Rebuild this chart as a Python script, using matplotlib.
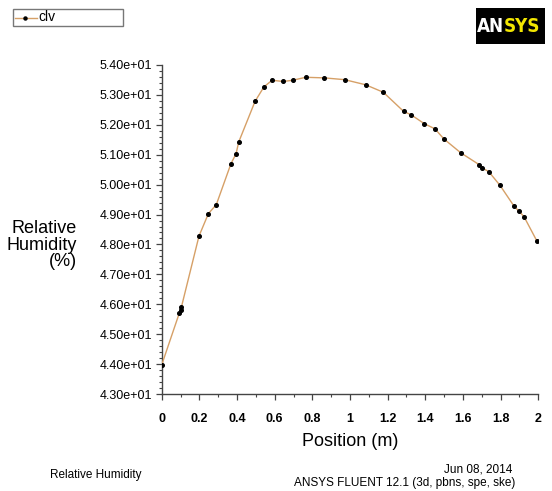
import matplotlib
matplotlib.use("Agg")
import matplotlib.pyplot as plt
from matplotlib.ticker import MultipleLocator, FuncFormatter
from matplotlib.patches import Rectangle
from matplotlib.lines import Line2D

# data
position = [0.0, 0.093, 0.100, 0.105, 0.198, 0.248, 0.290, 0.368, 0.395, 0.409,
            0.496, 0.543, 0.586, 0.646, 0.695, 0.765, 0.864, 0.972, 1.083, 1.177,
            1.285, 1.324, 1.395, 1.451, 1.499, 1.588, 1.687, 1.701, 1.737, 1.797,
            1.871, 1.896, 1.924, 1.993]
humidity = [43.98, 45.70, 45.82, 45.92, 48.28, 49.03, 49.33, 50.70, 51.03, 51.42,
            52.78, 53.26, 53.48, 53.44, 53.48, 53.58, 53.56, 53.50, 53.33, 53.08,
            52.44, 52.33, 52.03, 51.86, 51.52, 51.06, 50.66, 50.56, 50.43, 49.97,
            49.28, 49.12, 48.93, 48.11]
series_name = "clv"

W, H = 552, 491
plt.rcParams['font.family'] = ['Liberation Sans', 'DejaVu Sans']

fig = plt.figure(figsize=(W / 100, H / 100), dpi=100)


def fx(px):
    return px / W


def fy(py):
    return 1 - py / H


ax = fig.add_axes([fx(161.7), fy(394.3), fx(538.3) - fx(161.7), fy(64.7) - fy(394.3)])
ax.plot(position, humidity, color='#d6a067', lw=1.0, marker='o', ms=2.6,
        mfc='black', mec='black', zorder=3)

ax.set_xlim(0, 2)
ax.set_ylim(43, 54)
ax.xaxis.set_major_locator(MultipleLocator(0.2))
ax.xaxis.set_minor_locator(MultipleLocator(0.1))
ax.yaxis.set_major_locator(MultipleLocator(1))
ax.yaxis.set_minor_locator(MultipleLocator(0.2))
ax.yaxis.set_major_formatter(FuncFormatter(lambda v, p: f"{v:.2e}"))
ax.xaxis.set_major_formatter(FuncFormatter(lambda v, p: f"{v:g}"))

for s in ['top', 'right']:
    ax.spines[s].set_visible(False)
for s in ['left', 'bottom']:
    ax.spines[s].set_color('#444444')
    ax.spines[s].set_linewidth(1.0)

ax.tick_params(axis='both', which='major', direction='out', length=4, width=0.9,
               color='#444444')
ax.tick_params(axis='both', which='minor', direction='out', length=2.5, width=0.8,
               color='#444444')
ax.tick_params(axis='y', labelsize=9, pad=3)
ax.tick_params(axis='x', labelsize=9, pad=9.5)
for lab in ax.get_xticklabels():
    lab.set_fontweight('bold')

ax.set_xlabel("Position (m)", fontsize=13, labelpad=6)
fig.text(fx(77), fy(245), "Relative\nHumidity\n(%)", fontsize=13, ha='right',
         va='center', multialignment='right', linespacing=0.95)

# footer texts
fig.text(fx(50), fy(475), "Relative Humidity", fontsize=8.5, ha='left', va='center')
fig.text(fx(512), fy(470), "Jun 08, 2014", fontsize=8.5, ha='right', va='center')
fig.text(fx(515), fy(483), "ANSYS FLUENT 12.1 (3d, pbns, spe, ske)", fontsize=8.5,
         ha='right', va='center')

# legend box
fig.add_artist(Rectangle((fx(13), fy(26)), fx(123) - fx(13), fy(9) - fy(26),
                         transform=fig.transFigure, fill=False, ec='#777777', lw=1))
fig.add_artist(Line2D([fx(15), fx(37)], [fy(17.5), fy(17.5)], transform=fig.transFigure,
                      color='#d6a067', lw=1.0))
fig.add_artist(Line2D([fx(25)], [fy(17.5)], transform=fig.transFigure, marker='o',
                      ms=2.2, color='black', lw=0))
fig.text(fx(38), fy(17), series_name, fontsize=10, ha='left', va='center')

# ANSYS logo
fig.add_artist(Rectangle((fx(476), fy(44)), fx(545) - fx(476), fy(8) - fy(44),
                         transform=fig.transFigure, fc='black', ec='none'))
fig.text(fx(504), fy(26.5), "AN", fontsize=13.5, fontweight='bold', color='white',
         family='DejaVu Sans', fontstretch='condensed', ha='right', va='center')
fig.text(fx(504), fy(26.5), "SYS", fontsize=13.5, fontweight='bold', color='#f2e600',
         family='DejaVu Sans', fontstretch='condensed', ha='left', va='center')

fig.savefig("out.png", dpi=100)
